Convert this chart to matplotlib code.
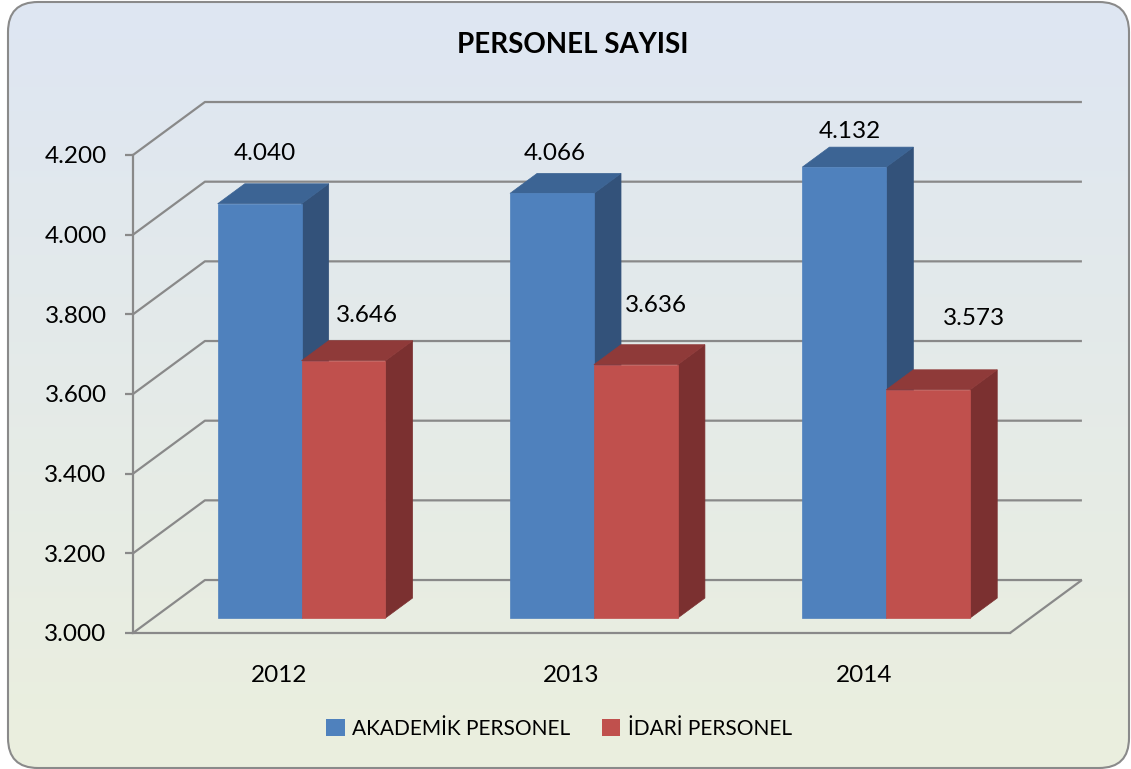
import numpy as np
import matplotlib.pyplot as plt
from matplotlib.patches import Polygon, Patch, FancyBboxPatch

years = ['2012', '2013', '2014']
akademik = [4040, 4066, 4132]
idari = [3646, 3636, 3573]
series_names = ['AKADEMİK PERSONEL', 'İDARİ PERSONEL']
yticks = [3000, 3200, 3400, 3600, 3800, 4000, 4200]
ytick_labels = ['3.000', '3.200', '3.400', '3.600', '3.800', '4.000', '4.200']

plt.rcParams['font.family'] = ['Lato', 'DejaVu Sans']

W, H = 1131, 769
fig = plt.figure(figsize=(W / 100, H / 100), dpi=100)

# background: gradient inside a rounded frame
bg = fig.add_axes([0, 0, 1, 1], zorder=0)
bg.set_xlim(0, W)
bg.set_ylim(0, H)
bg.axis('off')
top_c = np.array([222, 230, 243]) / 255
bot_c = np.array([235, 239, 222]) / 255
g = np.linspace(0, 1, 256)[:, None, None]
img = top_c + (bot_c - top_c) * g
frame = FancyBboxPatch((8, 1), 1121, 766, boxstyle='round,pad=0,rounding_size=30',
                       facecolor='none', edgecolor='#8a8a8a', lw=1.5, zorder=2)
bg.add_patch(frame)
im = bg.imshow(img, extent=[0, W, 0, H], aspect='auto', zorder=1)
im.set_clip_path(frame)

# main axes = front plane of the 3d box
ax = fig.add_axes([133 / W, 1 - 633 / H, 877 / W, 478 / H], zorder=1)
ax.patch.set_alpha(0)
ax.set_xlim(-0.5, 2.5)
ax.set_ylim(yticks[0], yticks[-1])
DX, DY = 0.246, 133  # floor depth in data units
base = yticks[0]


def proj(x, v, d):
    return (x + d * DX, v + d * DY)


gc = '#898989'
grid_kw = dict(color=gc, lw=1.6, clip_on=False, zorder=1, solid_capstyle='butt')
for v in yticks:
    ax.plot([-0.5, -0.5 + DX, 2.5 + DX], [v, v + DY, v + DY], **grid_kw)
ax.plot([2.5, 2.5 + DX], [base, base + DY], **grid_kw)

for s in ['top', 'right']:
    ax.spines[s].set_visible(False)
for s in ['left', 'bottom']:
    ax.spines[s].set_color(gc)
    ax.spines[s].set_linewidth(1.6)

ax.set_yticks(yticks)
ax.set_yticklabels(ytick_labels)
ax.set_xticks(range(len(years)))
ax.set_xticklabels(years)
ax.tick_params(axis='y', length=6, width=1.6, color=gc, pad=13, labelsize=17.5)
ax.tick_params(axis='x', length=0, pad=23, labelsize=17.5)

# bars
d0, d1 = 0.283, 0.66
w = 0.287
colors = [('#4f81bd', '#3c6494', '#33527a'), ('#c0504d', '#8f3a39', '#7b3030')]
label_off = [[(5, 50), (3, 40), (6, 36)], [(23, 45), (20, 59), (46, 71)]]

for i in range(len(years)):
    for k, vals in enumerate([akademik, idari]):
        v = vals[i]
        xa = i - 0.28 + k * w
        xb = xa + w
        face, topc, side = colors[k]
        front = [proj(xa, base, d0), proj(xb, base, d0), proj(xb, v, d0), proj(xa, v, d0)]
        topf = [proj(xa, v, d0), proj(xb, v, d0), proj(xb, v, d1), proj(xa, v, d1)]
        sidef = [proj(xb, base, d0), proj(xb, base, d1), proj(xb, v, d1), proj(xb, v, d0)]
        for pts, c in [(sidef, side), (topf, topc), (front, face)]:
            ax.add_patch(Polygon(pts, closed=True, facecolor=c, edgecolor=c, lw=0.5,
                                 clip_on=False, zorder=3))
        ax.annotate(f'{v:,}'.replace(',', '.'), xy=proj((xa + xb) / 2, v, d0),
                    xytext=label_off[k][i], textcoords='offset pixels',
                    ha='center', va='center', fontsize=17.5, annotation_clip=False, zorder=4)

fig.text(573 / W, 1 - 45 / H, 'PERSONEL SAYISI', ha='center', va='center',
         fontsize=20, fontweight='bold')

handles = [Patch(facecolor=colors[0][0]), Patch(facecolor=colors[1][0])]
fig.legend(handles, series_names, loc='center', bbox_to_anchor=(559 / W, 1 - 729 / H),
           ncol=2, frameon=False, fontsize=15, handlelength=0.9, handleheight=0.9,
           handletextpad=0.35, columnspacing=1.5)

fig.savefig('out.png', dpi=100)
